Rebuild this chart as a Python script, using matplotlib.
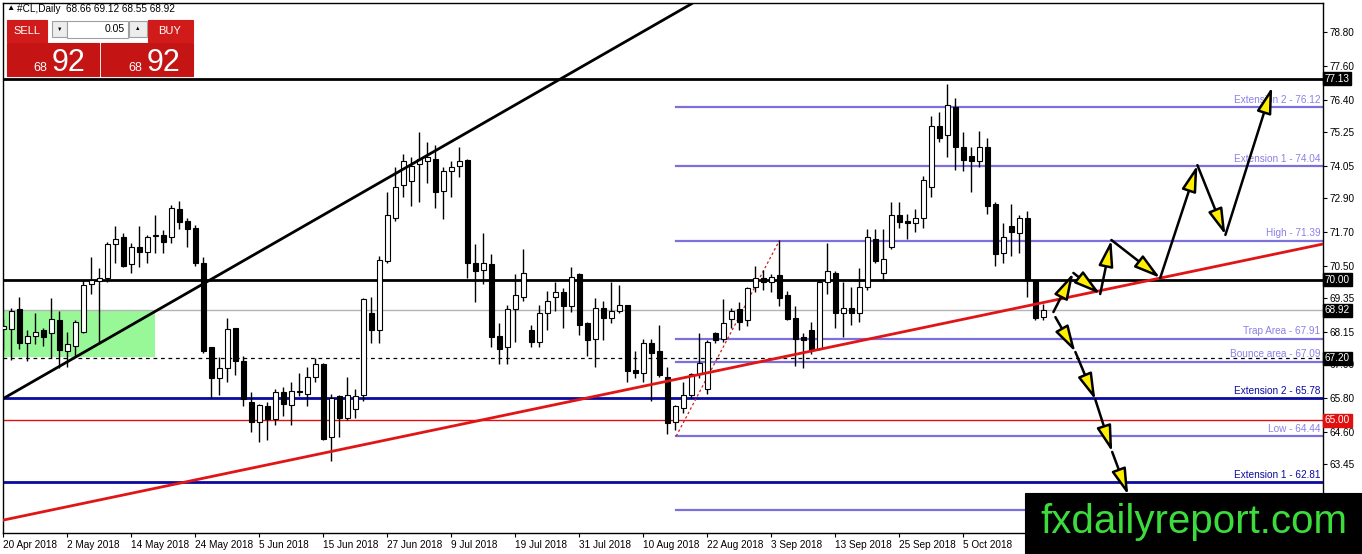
import matplotlib.pyplot as plt
from matplotlib.patches import Rectangle
from matplotlib.transforms import blended_transform_factory

plt.rcParams['font.family'] = ['Liberation Sans', 'DejaVu Sans']

W, H = 1362, 554

# daily candles, 20 Apr 2018 .. 22 Oct 2018
opens = [68.25, 68.25, 68.95, 67.75, 68.0, 68.2, 68.1, 68.55, 67.45, 67.65,
         68.15, 69.85, 69.95, 70.05, 71.25, 71.5, 70.55, 71.15, 71.0, 71.55,
         71.6, 71.5, 72.5, 72.1, 71.85, 70.6, 67.6, 66.5, 66.85, 68.3,
         67.1, 65.65, 64.95, 65.5, 65.05, 66.0, 65.55, 66.05, 65.95, 66.55,
         67.0, 64.4, 65.85, 65.1, 65.4, 65.9, 68.8, 68.2, 70.65, 72.2,
         73.35, 73.5, 74.1, 74.2, 74.3, 73.15, 73.85, 74.05, 74.25, 70.6,
         70.35, 70.55, 68.0, 67.6, 68.95, 69.4, 68.2, 67.8, 68.8, 69.4,
         69.55, 69.05, 70.2, 68.45, 67.9, 69.0, 68.65, 68.9, 69.1, 66.8,
         66.7, 67.75, 67.45, 66.55, 64.95, 65.45, 65.9, 66.65, 66.1, 68.1,
         67.9, 68.6, 68.95, 68.55, 69.75, 70.05, 69.9, 70.15, 69.45, 68.65,
         67.95, 68.2, 67.55, 69.9, 70.25, 68.8, 69.0, 68.8, 69.75, 71.45,
         70.25, 71.15, 72.3, 72.1, 72.0, 72.2, 73.3, 75.45, 75.15, 76.15,
         74.7, 74.4, 74.2, 74.7, 72.7, 70.95, 71.9, 71.65, 72.2, 70.0,
         68.66]
highs = [68.6, 69.0, 69.4, 68.2, 68.8, 68.3, 69.35, 68.9, 68.15, 68.55,
         70.0, 70.8, 70.4, 71.35, 71.9, 71.65, 71.3, 71.9, 71.6, 72.3,
         71.75, 72.65, 72.8, 72.2, 71.95, 70.8, 67.6, 67.25, 68.65, 68.3,
         67.3, 66.0, 65.6, 65.65, 66.1, 66.2, 66.35, 66.7, 66.9, 67.2,
         67.05, 65.95, 65.9, 66.55, 66.1, 69.35, 69.4, 70.85, 73.1, 74.0,
         74.45, 74.35, 75.25, 74.9, 74.8, 74.0, 74.2, 74.7, 74.3, 71.25,
         71.65, 70.9, 68.45, 69.1, 70.2, 71.1, 68.4, 69.1, 69.6, 69.9,
         69.7, 70.45, 70.25, 68.5, 69.35, 69.25, 69.9, 69.8, 69.1, 67.45,
         67.9, 67.9, 68.4, 66.9, 65.55, 66.35, 66.7, 68.1, 67.85, 68.15,
         69.3, 69.0, 69.2, 69.75, 70.5, 70.35, 70.2, 71.4, 69.6, 69.05,
         68.1, 68.5, 70.0, 71.3, 70.3, 69.9, 69.75, 70.4, 71.8, 71.8,
         71.8, 72.75, 72.75, 72.35, 72.5, 73.7, 75.8, 75.95, 76.95, 76.45,
         75.25, 74.7, 75.3, 75.05, 72.75, 72.0, 72.7, 72.3, 72.45, 70.0,
         69.12]
lows = [67.5, 67.15, 67.55, 67.1, 67.7, 67.65, 67.2, 66.85, 66.9, 67.25,
        68.1, 69.5, 67.7, 69.9, 70.6, 70.45, 70.25, 70.45, 70.6, 70.95,
        70.95, 71.3, 71.8, 71.15, 70.5, 67.4, 65.8, 65.9, 66.35, 66.6,
        65.5, 64.6, 64.25, 64.3, 64.85, 65.15, 64.85, 65.85, 65.5, 66.35,
        64.3, 63.55, 64.4, 65.0, 65.1, 65.7, 67.75, 67.75, 70.6, 72.1,
        72.95, 72.6, 72.75, 73.45, 72.55, 72.15, 72.95, 73.65, 70.05, 69.2,
        69.85, 67.6, 67.0, 67.0, 67.8, 69.25, 67.6, 67.6, 68.2, 68.9,
        68.3, 68.85, 68.05, 67.3, 66.9, 67.85, 68.45, 68.8, 66.35, 66.5,
        66.35, 65.7, 66.55, 64.5, 64.65, 65.25, 65.8, 66.5, 65.95, 67.75,
        67.8, 68.3, 68.2, 68.35, 69.55, 69.65, 69.55, 69.05, 68.55, 66.95,
        66.85, 67.35, 67.5, 69.5, 68.3, 67.95, 68.4, 68.5, 69.65, 70.6,
        69.95, 71.1, 71.85, 71.45, 71.7, 71.85, 72.95, 74.9, 74.35, 73.9,
        73.85, 73.1, 74.0, 72.35, 70.5, 70.6, 70.85, 70.95, 69.4, 68.55,
        68.55]
closes = [68.35, 68.9, 67.75, 68.0, 68.15, 67.95, 68.6, 67.5, 67.7, 68.5,
          69.8, 70.0, 70.05, 71.25, 71.45, 70.5, 71.15, 71.0, 71.5, 71.6,
          71.35, 72.55, 72.05, 71.8, 70.6, 67.45, 66.5, 66.85, 68.25, 67.1,
          65.75, 64.95, 65.55, 65.05, 66.0, 65.6, 66.05, 66.0, 66.55, 67.0,
          64.35, 65.8, 65.1, 65.9, 65.85, 69.3, 68.2, 70.7, 72.3, 73.3,
          74.2, 74.05, 74.3, 74.35, 73.1, 73.85, 74.0, 74.2, 70.6, 70.3,
          70.6, 67.95, 67.55, 68.95, 69.45, 70.25, 67.8, 68.8, 69.25, 69.55,
          69.05, 70.1, 68.4, 67.85, 69.0, 68.65, 68.9, 69.1, 66.75, 66.7,
          67.75, 67.4, 66.6, 64.9, 65.5, 65.9, 66.65, 67.05, 67.8, 67.85,
          68.45, 68.9, 68.5, 69.7, 70.05, 69.9, 70.1, 69.35, 68.6, 67.9,
          67.85, 67.5, 69.9, 70.3, 68.8, 69.0, 68.8, 69.75, 71.5, 70.65,
          70.75, 72.3, 72.05, 72.0, 72.2, 73.55, 75.45, 75.05, 76.2, 74.7,
          74.25, 74.2, 74.7, 72.6, 70.9, 71.5, 71.7, 72.2, 70.0, 68.65,
          68.92]

date_labels = ['20 Apr 2018', '2 May 2018', '14 May 2018', '24 May 2018', '5 Jun 2018',
               '15 Jun 2018', '27 Jun 2018', '9 Jul 2018', '19 Jul 2018', '31 Jul 2018',
               '10 Aug 2018', '22 Aug 2018', '3 Sep 2018', '13 Sep 2018', '25 Sep 2018',
               '5 Oct 2018']
price_ticks = [78.80, 77.60, 76.40, 75.25, 74.05, 72.90, 71.70, 70.50, 69.35,
               68.15, 67.00, 65.80, 64.60, 63.45, 62.25]

# fibonacci tool levels (drawn from the August low)
fib_levels = [76.12, 74.04, 71.39, 67.91, 67.09, 64.44, 61.82]
fib_names = ['Extension 2 - 76.12', 'Extension 1 - 74.04', 'High - 71.39',
             'Trap Area - 67.91', 'Bounce area - 67.09', 'Low - 64.44', '']
blue_levels = [65.78, 62.81]
blue_names = ['Extension 2 - 65.78', 'Extension 1 - 62.81']
tag_prices = [77.13, 70.00, 68.92, 67.20]

black_trend = ([0, 86], [65.78, 79.80])
red_trend = ([0, 165], [61.46, 71.27])
fib_swing = ([84.1, 97.0], [64.44, 71.39])

# scenario arrows
up_x = [131.25, 133.75, 137.1, 138.5, 144.6, 149.25, 152.75, 158.6]
up_y = [68.85, 70.24, 69.49, 71.41, 70.06, 74.07, 71.59, 76.85]
dn_x = [131.5, 134.0, 136.5, 138.6, 140.6]
dn_y = [68.67, 67.43, 65.73, 63.88, 62.35]


def fx(x):
    return x / W


def fy(y):
    return 1 - y / H


fig = plt.figure(figsize=(W / 100, H / 100), dpi=100)
ax = fig.add_axes([fx(3), fy(533), fx(1320), (533 - 3) / H])
ax.set_xlim(-0.05, 164.95)
ax.set_ylim(61.0, 79.83)

# zone, levels, trendlines
ax.add_patch(Rectangle((0, 67.25), 19, 68.92 - 67.25, color='#98F898', zorder=1, lw=0))
ax.axhline(77.13, color='black', lw=2, zorder=2)
ax.axhline(70.00, color='black', lw=2, zorder=2)
ax.axhline(68.92, color='#B4B4B4', lw=1, zorder=2)
ax.axhline(67.20, color='black', lw=0.9, ls=(0, (3, 3)), zorder=2)
ax.axhline(65.00, color='#E01010', lw=1, zorder=2)
for lv in blue_levels:
    ax.axhline(lv, color='#0A0AA0', lw=2, zorder=2)
for lv in fib_levels:
    ax.plot([84.1, 165], [lv, lv], color='#7B70DC', lw=1.6, zorder=2)

ax.plot(black_trend[0], black_trend[1], color='black', lw=2, zorder=5)
ax.plot(red_trend[0], red_trend[1], color='#E01515', lw=2, zorder=5)
ax.plot(fib_swing[0], fib_swing[1], color='#D02020', lw=0.9, ls=(0, (2, 2)), zorder=2)

# candles
idx = list(range(len(opens)))
ax.vlines(idx, lows, highs, color='black', lw=1, zorder=3)
bottoms = [min(o, c) for o, c in zip(opens, closes)]
heights = [max(abs(c - o), 0.04) for o, c in zip(opens, closes)]
colors = ['white' if c >= o else 'black' for o, c in zip(opens, closes)]
ax.bar(idx, heights, bottom=bottoms, width=0.62, color=colors,
       edgecolor='black', linewidth=0.8, zorder=4)

# level labels
for lv, name in zip(fib_levels, fib_names):
    ax.text(164.6, lv + 0.08, name, color='#8A80E6', fontsize=7.2,
            ha='right', va='bottom', zorder=6)
for lv, name in zip(blue_levels, blue_names):
    ax.text(164.6, lv + 0.08, name, color='#0A0AA0', fontsize=7.2,
            ha='right', va='bottom', zorder=6)

# scenario arrows
arrow_style = dict(arrowstyle='-|>,head_length=1.6,head_width=0.45', fc='#FFEE00',
                   ec='black', lw=1.8, shrinkA=0, shrinkB=0)
for xs, ys in ((up_x, up_y), (dn_x, dn_y)):
    for k in range(len(xs) - 1):
        ax.annotate('', xy=(xs[k + 1], ys[k + 1]), xytext=(xs[k], ys[k]),
                    arrowprops=arrow_style, zorder=7)

# axes styling
for s in ax.spines.values():
    s.set_color('black')
    s.set_linewidth(1)
ax.yaxis.tick_right()
ax.set_yticks(price_ticks)
ax.set_yticklabels(['%.2f' % v for v in price_ticks])
ax.set_xticks(list(range(0, 8 * len(date_labels), 8)))
ax.set_xticklabels(date_labels, ha='left')
ax.tick_params(axis='y', labelsize=7.2, length=3, pad=2, colors='black')
ax.tick_params(axis='x', labelsize=7.2, length=3, pad=2, colors='black')

# price tags on the right scale
tr = blended_transform_factory(ax.transAxes, ax.transData)
for p in tag_prices:
    ax.text(1.0015, p, '%.2f' % p, transform=tr, color='white', fontsize=7.2,
            ha='left', va='center', clip_on=False, zorder=8,
            bbox=dict(boxstyle='square,pad=0.15', fc='black', ec='black'))
ax.text(1.0015, 65.00, '65.00', transform=tr, color='white', fontsize=7.2,
        ha='left', va='center', clip_on=False, zorder=8,
        bbox=dict(boxstyle='square,pad=0.15', fc='#E01010', ec='#E01010'))

# header and one-click trading panel
fig.text(fx(6), fy(9), '\u25B2', fontsize=6, va='center', color='black')
fig.text(fx(17), fy(9), '#CL,Daily  68.66 69.12 68.55 68.92', fontsize=7.2,
         va='center', color='black')


def box(x0, y0, x1, y1, fc, ec=None):
    fig.patches.append(Rectangle((fx(x0), fy(y1)), fx(x1 - x0), (y1 - y0) / H,
                                 transform=fig.transFigure, fc=fc,
                                 ec=ec if ec else fc, lw=0.8, zorder=9))


box(7, 20, 47, 42, '#D11B1B')
box(148, 20, 193, 42, '#D11B1B')
box(52, 21, 67, 37, '#EDEDED', '#A0A0A0')
box(67, 21, 128, 38, 'white', '#A0A0A0')
box(129, 21, 147, 37, '#EDEDED', '#A0A0A0')
box(7, 43, 99, 76, '#C41414')
box(101, 43, 193, 76, '#C41414')
fig.text(fx(27), fy(31), 'SELL', color='white', fontsize=8, ha='center', va='center', zorder=10)
fig.text(fx(170), fy(31), 'BUY', color='white', fontsize=8, ha='center', va='center', zorder=10)
fig.text(fx(59.5), fy(29), '\u25BC', color='black', fontsize=4, ha='center', va='center', zorder=10)
fig.text(fx(138), fy(29), '\u25B2', color='black', fontsize=4, ha='center', va='center', zorder=10)
fig.text(fx(125), fy(29), '0.05', color='black', fontsize=7.5, ha='right', va='center', zorder=10)
for x0 in (33, 128):
    fig.text(fx(x0), fy(71), '68', color='white', fontsize=9, ha='left', va='baseline', zorder=10)
    fig.text(fx(x0 + 19), fy(71), '92', color='white', fontsize=22, ha='left', va='baseline', zorder=10)

# watermark box
box(1025, 493, 1362, 554, 'black')
fig.text(fx(1040), fy(533), 'fxdailyreport.com', color='#3CDC3C', fontsize=29,
         ha='left', va='baseline', zorder=10)

fig.savefig('out.png', dpi=100)
